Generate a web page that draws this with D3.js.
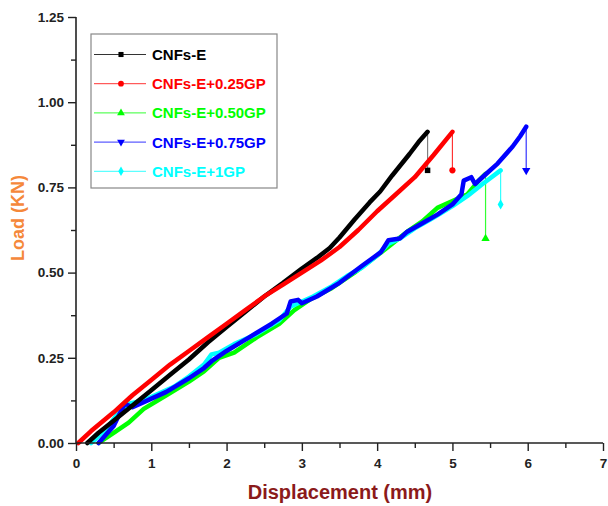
<!DOCTYPE html>
<html><head><meta charset="utf-8">
<script src="https://cdn.jsdelivr.net/npm/d3@7"></script>
<style>body{margin:0;background:#fff}svg{display:block}text{font-family:"Liberation Sans",Arial,sans-serif}</style>
</head><body>
<svg id="c" width="608" height="506"></svg>
<script>
const seriesNames = ["CNFs-E","CNFs-E+0.25GP","CNFs-E+0.50GP","CNFs-E+0.75GP","CNFs-E+1GP"];
const seriesColors = ["#000000","#ff0000","#00ff00","#0000ff","#00ffff"];
const seriesSymbols = ["square","circle","triangle","triangleDown","diamond"];

const blackX = [0.15,0.3,0.5,0.75,1.0,1.25,1.5,1.75,2.0,2.25,2.5,2.75,3.0,3.2,3.37,3.5,3.7,3.9,4.04,4.2,4.43,4.55,4.67];
const blackY = [0,0.03,0.065,0.11,0.155,0.20,0.245,0.295,0.34,0.385,0.43,0.47,0.512,0.543,0.572,0.603,0.656,0.706,0.738,0.785,0.848,0.883,0.913];
const blackDrop = [4.67,0.80];

const redX = [0.03,0.2,0.5,0.75,1.0,1.25,1.5,1.75,2.0,2.25,2.5,2.75,3.0,3.25,3.5,3.75,4.0,4.25,4.5,4.75,5.0];
const redY = [0,0.035,0.09,0.14,0.185,0.23,0.27,0.31,0.35,0.39,0.43,0.465,0.50,0.535,0.575,0.625,0.68,0.73,0.78,0.845,0.913];
const redDrop = [5.0,0.80];

const greenX = [0.3,0.5,0.7,0.9,1.2,1.5,1.7,1.9,2.1,2.4,2.7,2.9,3.1,3.4,3.7,4.0,4.2,4.4,4.6,4.8,5.0,5.2,5.35,5.44];
const greenY = [0,0.03,0.06,0.10,0.14,0.18,0.21,0.25,0.265,0.31,0.35,0.39,0.42,0.455,0.50,0.55,0.585,0.62,0.65,0.69,0.71,0.73,0.77,0.79];
const greenDrop = [5.44,0.60];

const blueX = [0.3,0.5,0.6,0.65,0.75,0.9,1.2,1.5,1.7,1.8,2.0,2.3,2.6,2.8,2.85,2.95,3.0,3.2,3.5,3.8,4.05,4.15,4.3,4.4,4.6,4.8,5.0,5.12,5.15,5.25,5.3,5.45,5.6,5.8,5.9,5.98];
const blueY = [0,0.05,0.095,0.115,0.105,0.12,0.15,0.19,0.22,0.24,0.27,0.31,0.35,0.38,0.415,0.42,0.41,0.43,0.47,0.52,0.56,0.595,0.60,0.62,0.645,0.67,0.70,0.73,0.77,0.78,0.76,0.79,0.82,0.87,0.90,0.928];
const blueDrop = [5.98,0.80];

const cyanX = [0.2,0.4,0.6,0.7,0.9,1.1,1.3,1.5,1.7,1.8,1.9,2.1,2.4,2.7,2.85,2.95,3.15,3.4,3.6,3.8,4.0,4.15,4.3,4.5,4.7,4.85,5.0,5.2,5.4,5.64];
const cyanY = [0,0.04,0.10,0.115,0.125,0.145,0.165,0.195,0.23,0.26,0.265,0.29,0.32,0.36,0.40,0.41,0.43,0.46,0.49,0.515,0.55,0.585,0.60,0.63,0.655,0.675,0.695,0.725,0.76,0.80];
const cyanDrop = [5.64,0.70];

const xTicks = [0,1,2,3,4,5,6,7];
const yTicks = [0,0.25,0.5,0.75,1.0,1.25];
const yTickLabels = ["0.00","0.25","0.50","0.75","1.00","1.25"];

const allX = [blackX,redX,greenX,blueX,cyanX];
const allY = [blackY,redY,greenY,blueY,cyanY];
const drops = [blackDrop,redDrop,greenDrop,blueDrop,cyanDrop];

const svg = d3.select("#c");
const x = d3.scaleLinear().domain([0,7]).range([76,603]);
const y = d3.scaleLinear().domain([0,1.25]).range([443,17]);

const symMap = {square:d3.symbolSquare,circle:d3.symbolCircle,triangle:d3.symbolTriangle,triangleDown:d3.symbolTriangle,diamond:d3.symbolDiamond};
function drawSym(g,type,cx,cy,color,size){
  g.append("path").attr("d",d3.symbol().type(symMap[type]).size(size)())
   .attr("transform",`translate(${cx},${cy})`+(type==="triangleDown"?" rotate(180)":""))
   .attr("fill",color);
}

const line = d3.line().x(d=>x(d[0])).y(d=>y(d[1]));
const plot = svg.append("g");
for(let i=0;i<5;i++){
  const pts = allX[i].map((v,j)=>[v,allY[i][j]]);
  const last = pts[pts.length-1];
  plot.append("path").attr("d",line([last,drops[i]])).attr("fill","none")
    .attr("stroke",seriesColors[i]).attr("stroke-opacity",i===0?0.5:0.8).attr("stroke-width",1.2);
  drawSym(plot,seriesSymbols[i],x(drops[i][0]),y(drops[i][1]),seriesColors[i],30);
}
const order=[2,4,3,0,1];
for(const i of order){
  const pts = allX[i].map((v,j)=>[v,allY[i][j]]);
  plot.append("path").attr("d",line(pts)).attr("fill","none")
    .attr("stroke",seriesColors[i]).attr("stroke-width",4.5)
    .attr("stroke-linejoin","round").attr("stroke-linecap","round");
}

const ax = svg.append("g").attr("transform","translate(0,443)");
ax.call(d3.axisBottom(x).tickValues(xTicks).tickSize(8).tickPadding(7).tickFormat(d3.format("d")));
const axm = svg.append("g").attr("transform","translate(0,443)");
axm.call(d3.axisBottom(x).tickValues(d3.range(0.5,7,1)).tickSize(5).tickFormat(""));
const ay = svg.append("g").attr("transform","translate(76,0)");
ay.call(d3.axisLeft(y).tickValues(yTicks).tickSize(8).tickPadding(4).tickFormat((d,i)=>yTickLabels[i]));
const aym = svg.append("g").attr("transform","translate(76,0)");
aym.call(d3.axisLeft(y).tickValues(d3.range(0.125,1.25,0.25)).tickSize(5).tickFormat(""));
svg.selectAll(".domain").attr("stroke","#222").attr("stroke-width",1.6);
svg.selectAll(".tick line").attr("stroke","#222").attr("stroke-width",1.4);
svg.selectAll(".tick text").attr("font-size",13.5).attr("font-weight","bold").attr("fill","#222")
   .attr("font-family","'Liberation Sans',Arial,sans-serif");
ax.selectAll(".domain").attr("d","M76,0H603");
ay.selectAll(".domain").attr("d","M0,17V443");
axm.select(".domain").remove(); aym.select(".domain").remove();

svg.append("text").attr("x",340).attr("y",499).attr("text-anchor","middle")
  .attr("font-size",20).attr("font-weight","bold").attr("fill","#8b1a1a").text("Displacement (mm)");
svg.append("text").attr("transform","translate(24,218) rotate(-90)").attr("text-anchor","middle")
  .attr("font-size",18).attr("font-weight","bold").attr("fill","#f5883a").text("Load (KN)");

const lg = svg.append("g");
lg.append("rect").attr("x",91).attr("y",34).attr("width",186).attr("height",154)
  .attr("fill","#fff").attr("stroke","#888").attr("stroke-width",1.2);
seriesNames.forEach((n,i)=>{
  const yy = 54.5 + i*29.2;
  lg.append("line").attr("x1",94).attr("x2",146).attr("y1",yy).attr("y2",yy)
    .attr("stroke",seriesColors[i]).attr("stroke-width",1).attr("stroke-opacity",0.8);
  drawSym(lg,seriesSymbols[i],121,yy,seriesColors[i],26);
  lg.append("text").attr("x",152).attr("y",yy+5.5).attr("font-size",15).attr("font-weight","bold")
    .attr("fill",seriesColors[i]).text(n);
});
</script>
</body></html>
